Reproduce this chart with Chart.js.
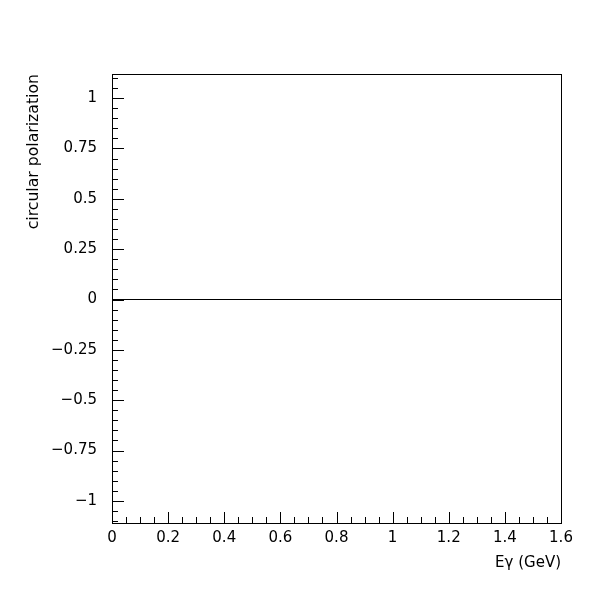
<!DOCTYPE html>
<html>
<head>
<meta charset="utf-8">
<title>circular polarization</title>
<script src="https://cdn.jsdelivr.net/npm/chart.js@4.4.1/dist/chart.umd.min.js"></script>
<style>
	html, body { margin: 0; padding: 0; background: #fff; }
	#wrap { width: 600px; height: 600px; }
</style>
</head>
<body>
<div id="wrap"><canvas id="chart-polarization" width="600" height="600"></canvas></div>
<script>
// data
var energy = [0, 1.6];
var polarization = [0, 0];
var xTickValues = [0, 0.2, 0.4, 0.6, 0.8, 1, 1.2, 1.4, 1.6];
var yTickValues = [-1, -0.75, -0.5, -0.25, 0, 0.25, 0.5, 0.75, 1];

function fmt(v) {
	return (v < 0 ? '\u2212' : '') + Math.abs(v);
}

// frame + inward ticks, ROOT style
var frameTicks = {
	id: 'frameTicks',
	afterDraw: function(chart) {
		var ctx = chart.ctx;
		var a = chart.chartArea;
		var xs = chart.scales.x, ys = chart.scales.y;
		ctx.save();
		ctx.strokeStyle = '#000';
		ctx.lineWidth = 1;
		ctx.strokeRect(a.left + 0.5, a.top + 0.5, a.right - a.left, a.bottom - a.top);
		ctx.beginPath();
		var i, v, p, len;
		for (i = Math.ceil(xs.min / 0.05); i <= Math.floor(xs.max / 0.05 + 1e-9); i++) {
			v = i * 0.05;
			p = Math.round(xs.getPixelForValue(v)) + 0.5;
			len = (i % 4 === 0) ? 11 : 6;
			ctx.moveTo(p, a.bottom);
			ctx.lineTo(p, a.bottom - len);
		}
		for (i = Math.ceil(ys.min / 0.05 - 1e-9); i <= Math.floor(ys.max / 0.05 + 1e-9); i++) {
			v = i * 0.05;
			p = Math.round(ys.getPixelForValue(v)) + 0.5;
			len = (i % 5 === 0) ? 12 : 6;
			ctx.moveTo(a.left, p);
			ctx.lineTo(a.left + len, p);
		}
		ctx.stroke();
		ctx.restore();
	}
};

var ctx = document.getElementById('chart-polarization').getContext('2d');
var chartPolarization = new Chart(ctx, {
	type: 'line',
	data: {
		datasets: [{
			data: energy.map(function(e, i) { return {x: e, y: polarization[i]}; }),
			borderColor: '#000',
			borderWidth: 1,
			pointRadius: 0,
			fill: false
		}]
	},
	options: {
		responsive: false,
		animation: false,
		layout: {
			padding: {left: 0, top: 74, right: 39, bottom: 0}
		},
		plugins: {
			legend: { display: false },
			tooltip: { enabled: false }
		},
		scales: {
			x: {
				type: 'linear',
				min: 0,
				max: 1.6,
				afterBuildTicks: function(scale) {
					scale.ticks = xTickValues.map(function(v) { return {value: v}; });
				},
				afterFit: function(scale) { scale.height = 77; },
				grid: { display: false, drawTicks: false },
				border: { display: false },
				ticks: {
					color: '#000',
					padding: 6,
					maxRotation: 0,
					autoSkip: false,
					font: { family: 'DejaVu Sans', size: 15 },
					callback: function(v) { return fmt(v); }
				},
				title: {
					display: true,
					text: 'E\u03b3 (GeV)',
					align: 'end',
					color: '#000',
					font: { family: 'DejaVu Sans', size: 15 },
					padding: {top: 0, bottom: 28}
				}
			},
			y: {
				type: 'linear',
				min: -1.11,
				max: 1.12,
				afterBuildTicks: function(scale) {
					scale.ticks = yTickValues.map(function(v) { return {value: v}; });
				},
				afterFit: function(scale) { scale.width = 112; },
				grid: { display: false, drawTicks: false },
				border: { display: false },
				ticks: {
					color: '#000',
					padding: 15,
					autoSkip: false,
					font: { family: 'DejaVu Sans', size: 15 },
					callback: function(v) { return fmt(v); }
				},
				title: {
					display: true,
					text: 'circular polarization',
					align: 'end',
					color: '#000',
					font: { family: 'DejaVu Sans', size: 15.7 },
					padding: {top: 25, bottom: 0}
				}
			}
		}
	},
	plugins: [frameTicks]
});
</script>
</body>
</html>
